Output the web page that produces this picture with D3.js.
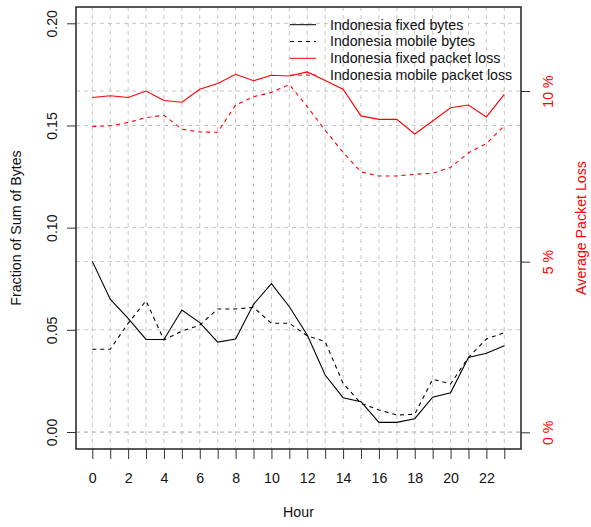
<!DOCTYPE html>
<meta charset="utf-8">
<style>
body { margin: 0; background: white; }
text { font-family: "Liberation Sans", Arial, sans-serif; }
</style>
<body>
<script src="https://cdn.jsdelivr.net/npm/d3@7"></script>
<script>
var hours = d3.range(0, 24)
var hourLabels = [0, 2, 4, 6, 8, 10, 12, 14, 16, 18, 20, 22]
var byteTicks = [0, 0.05, 0.10, 0.15, 0.20]
var lossTicks = [0, 5, 10]

var fixedBytes = [0.0835, 0.065, 0.0556, 0.0453, 0.0453, 0.0597, 0.0535, 0.044, 0.0455, 0.0625,
    0.0726, 0.0613, 0.0475, 0.0279, 0.0168, 0.0148, 0.0047, 0.0047, 0.0065, 0.017,
    0.0192, 0.0365, 0.0385, 0.0422]
var mobileBytes = [0.0405, 0.0405, 0.0532, 0.0642, 0.045, 0.0494, 0.0523, 0.0602, 0.0602, 0.061,
    0.0532, 0.0532, 0.0471, 0.0442, 0.0238, 0.014, 0.0108, 0.0083, 0.0087, 0.0258,
    0.0235, 0.0365, 0.0455, 0.0486]
var fixedLoss = [9.81, 9.86, 9.81, 10.0, 9.72, 9.67, 10.05, 10.22, 10.49, 10.3,
    10.46, 10.44, 10.56, 10.31, 10.05, 9.27, 9.17, 9.17, 8.74, 9.12,
    9.51, 9.59, 9.24, 9.9]
var mobileLoss = [8.96, 8.98, 9.08, 9.22, 9.29, 8.88, 8.8, 8.79, 9.59, 9.83,
    9.96, 10.19, 9.54, 8.85, 8.2, 7.63, 7.51, 7.51, 7.56, 7.59,
    7.76, 8.19, 8.46, 8.98]

var series = [
    { name: 'Indonesia fixed bytes', values: fixedBytes, axis: 'bytes', color: 'black', dash: null },
    { name: 'Indonesia mobile bytes', values: mobileBytes, axis: 'bytes', color: 'black', dash: '4,4' },
    { name: 'Indonesia fixed packet loss', values: fixedLoss, axis: 'loss', color: 'red', dash: null },
    { name: 'Indonesia mobile packet loss', values: mobileLoss, axis: 'loss', color: 'red', dash: '4,4' }
]

var width = 591
var height = 527
var fs = 14.2
var box = { left: 76, right: 521, top: 7, bottom: 449 }

var x = d3.scaleLinear().domain([0, 23]).range([92.3, 504.3])
var yBytes = d3.scaleLinear().domain([0, 0.2]).range([432, 23.3])
var yLoss = d3.scaleLinear().domain([0, 10]).range([432.3, 91])

var svg = d3.select('body').append('svg')
    .attr('width', width)
    .attr('height', height)

// grid
var grid = svg.append('g')
    .attr('stroke', '#c4c4c4')
    .attr('stroke-width', 1)
    .attr('stroke-dasharray', '4,4')

grid.selectAll('.vg').data(hours).enter().append('line')
    .attr('x1', function (d) { return x(d) }).attr('x2', function (d) { return x(d) })
    .attr('y1', box.top).attr('y2', box.bottom)

grid.selectAll('.hb').data(byteTicks).enter().append('line')
    .attr('x1', box.left).attr('x2', box.right)
    .attr('y1', function (d) { return yBytes(d) }).attr('y2', function (d) { return yBytes(d) })

grid.selectAll('.hl').data(lossTicks).enter().append('line')
    .attr('x1', box.left).attr('x2', box.right)
    .attr('y1', function (d) { return yLoss(d) }).attr('y2', function (d) { return yLoss(d) })

// lines
series.forEach(function (s) {
    var yy = s.axis === 'bytes' ? yBytes : yLoss
    var line = d3.line()
        .x(function (d, i) { return x(hours[i]) })
        .y(function (d) { return yy(d) })
    svg.append('path')
        .datum(s.values)
        .attr('d', line)
        .attr('fill', 'none')
        .attr('stroke', s.color)
        .attr('stroke-width', 1.1)
        .attr('stroke-dasharray', s.dash)
})

// box
svg.append('rect')
    .attr('x', box.left).attr('y', box.top)
    .attr('width', box.right - box.left).attr('height', box.bottom - box.top)
    .attr('fill', 'none').attr('stroke', '#222').attr('stroke-width', 1.5)

// bottom axis
var xAxis = d3.axisBottom(x).tickValues(hours).tickSize(10)
    .tickFormat(function (d) { return hourLabels.indexOf(d) >= 0 ? d : '' })
var gx = svg.append('g').attr('transform', 'translate(0,' + box.bottom + ')').call(xAxis)
gx.select('.domain').remove()
gx.selectAll('line').attr('stroke', '#333')
gx.selectAll('text').attr('y', 24).attr('font-size', fs).attr('fill', '#111')

// left axis
var yAxisL = d3.axisLeft(yBytes).tickValues(byteTicks).tickSize(9)
    .tickFormat(d3.format('.2f'))
var gl = svg.append('g').attr('transform', 'translate(' + box.left + ',0)').call(yAxisL)
gl.select('.domain').remove()
gl.selectAll('line').attr('stroke', '#333')
gl.selectAll('text')
    .attr('x', 0).attr('dy', null)
    .attr('text-anchor', 'middle')
    .attr('font-size', fs).attr('fill', '#111')
    .attr('transform', 'translate(-19,0) rotate(-90)')

// right axis
var yAxisR = d3.axisRight(yLoss).tickValues(lossTicks).tickSize(9)
    .tickFormat(function (d) { return d + ' %' })
var gr = svg.append('g').attr('transform', 'translate(' + box.right + ',0)').call(yAxisR)
gr.select('.domain').remove()
gr.selectAll('line').attr('stroke', '#333')
gr.selectAll('text')
    .attr('x', 0).attr('dy', null)
    .attr('text-anchor', 'middle')
    .attr('font-size', fs).attr('fill', 'red')
    .attr('transform', 'translate(32,0) rotate(-90)')

// axis titles
svg.append('text')
    .attr('x', (box.left + box.right) / 2).attr('y', 517)
    .attr('text-anchor', 'middle').attr('font-size', fs).attr('fill', '#111')
    .text('Hour')

svg.append('text')
    .attr('transform', 'translate(21,' + (box.top + box.bottom) / 2 + ') rotate(-90)')
    .attr('text-anchor', 'middle').attr('font-size', fs).attr('fill', '#111')
    .text('Fraction of Sum of Bytes')

svg.append('text')
    .attr('transform', 'translate(586,' + (box.top + box.bottom) / 2 + ') rotate(-90)')
    .attr('text-anchor', 'middle').attr('font-size', fs).attr('fill', 'red')
    .text('Average Packet Loss')

// legend
var legend = svg.append('g')
var rows = legend.selectAll('g').data(series).enter().append('g')
    .attr('transform', function (d, i) { return 'translate(0,' + (24.7 + i * 16.8) + ')' })
rows.append('line')
    .attr('x1', 290).attr('x2', 316)
    .attr('stroke', function (d) { return d.color })
    .attr('stroke-dasharray', function (d) { return d.dash })
rows.append('text')
    .attr('x', 330).attr('dy', '0.35em')
    .attr('font-size', fs).attr('fill', '#111')
    .text(function (d) { return d.name })
</script>
</body>
